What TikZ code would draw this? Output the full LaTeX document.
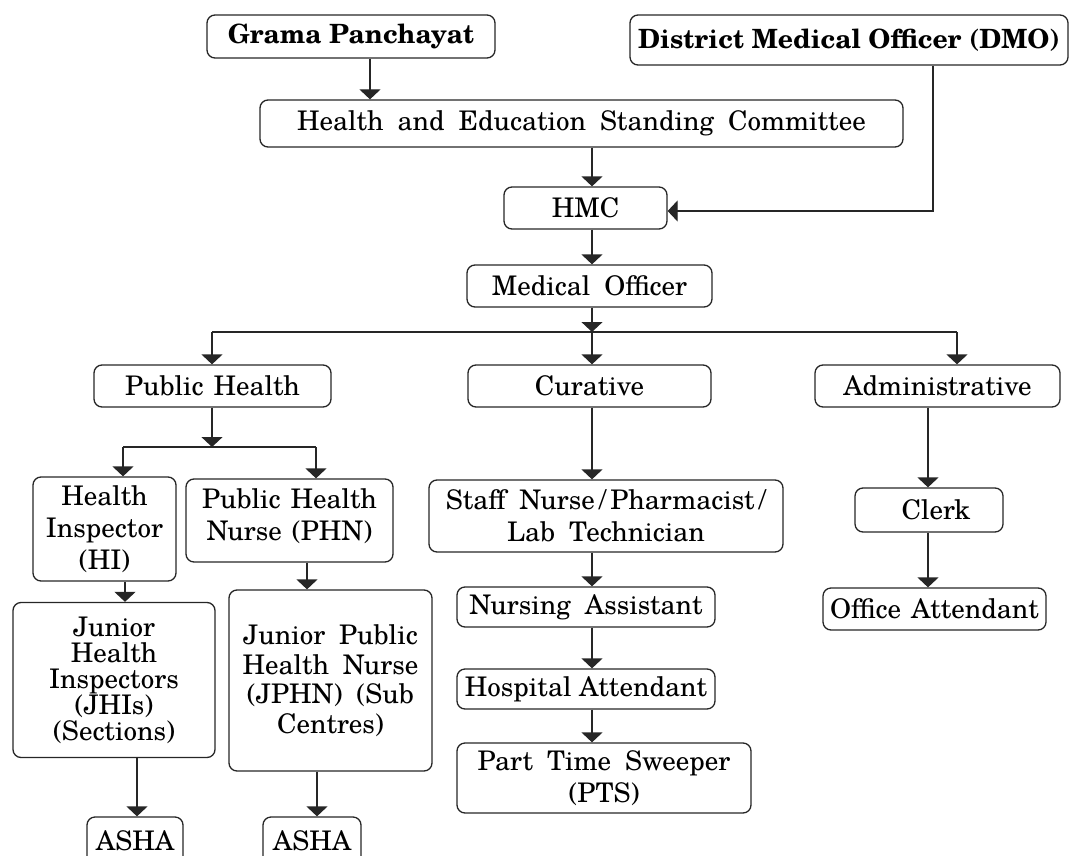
\documentclass[tikz,border=0pt]{standalone}
\usepackage{fontspec}
\setmainfont{texgyreschola}[Extension=.otf, UprightFont=*-regular, BoldFont=*-bold]
\usetikzlibrary{arrows.meta,calc}
\newcommand{\slsh}{\hspace{4pt}/\hspace{4pt}}
\newcommand{\widesp}{\spaceskip 14pt plus 2pt minus 2pt\relax}
\newcommand{\midsp}{\spaceskip 10pt plus 2pt minus 2pt\relax}
\begin{document}
\begin{tikzpicture}[x=1pt,y=-1pt,
  box/.style={draw=black!85, line width=1.3pt, rounded corners=8pt, inner sep=0pt, align=center, font=\fontsize{27}{32}\selectfont\widesp},
  bbox/.style={box, font=\fontsize{26.5}{30}\selectfont\bfseries},
  arr/.style={draw=black!85, line width=1.3pt, -{Triangle[width=21pt,length=10pt]}},
  ln/.style={draw=black!85, line width=1.3pt}]
\useasboundingbox (0,0) rectangle (1070,856);
% nodes
\node[bbox, minimum width=288pt, minimum height=43pt] (gp) at (351,36.5) {Grama Panchayat};
\node[bbox, minimum width=438pt, minimum height=50pt] (dmo) at (849,40) {District Medical Officer (DMO)};
\node[box, minimum width=643pt, minimum height=47pt] (hesc) at (581.5,123.5) {Health and Education Standing Committee};
\node[box, minimum width=163pt, minimum height=42pt] (hmc) at (585.5,208) {HMC};
\node[box, minimum width=245pt, minimum height=42pt] (mo) at (589.5,286) {Medical Officer};
\node[box, minimum width=237pt, minimum height=42pt, font=\fontsize{27}{32}\selectfont\midsp] (ph) at (212.5,386) {Public Health};
\node[box, minimum width=243pt, minimum height=42pt] (cur) at (589.5,386) {Curative};
\node[box, minimum width=245pt, minimum height=42pt] (adm) at (937.5,386) {Administrative};
\node[box, minimum width=143pt, minimum height=104pt] (hi) at (104.5,529) {Health\\Inspector\\(HI)};
\node[box, minimum width=207pt, minimum height=83pt, font=\fontsize{27}{32}\selectfont\midsp] (phn) at (289.5,520.5) {Public Health\\Nurse (PHN)\\[-20pt]{}};
\node[box, minimum width=202pt, minimum height=155pt, font=\fontsize{27}{26}\selectfont] (jhi) at (114,680) {Junior\\Health\\Inspectors\\(JHIs)\\(Sections)};
\node[box, minimum width=203pt, minimum height=181pt, font=\fontsize{27}{29.5}\selectfont\widesp] (jphn) at (330.5,680.5) {Junior Public\\Health Nurse\\(JPHN) (Sub\\Centres)};
\node[box, minimum width=96pt, minimum height=48pt] (asha1) at (135,841) {ASHA};
\node[box, minimum width=98pt, minimum height=48pt] (asha2) at (312,841) {ASHA};
\node[box, minimum width=354pt, minimum height=72pt] (staff) at (606,516) {Staff Nurse\slsh Pharmacist\slsh\\Lab Technician};
\node[box, minimum width=258pt, minimum height=40pt] (na) at (586,607) {Nursing Assistant};
\node[box, minimum width=258pt, minimum height=40pt, font=\fontsize{27}{32}\selectfont] (ha) at (586,689) {Hospital Attendant};
\node[box, minimum width=294pt, minimum height=70pt] (pts) at (604,778) {Part Time Sweeper\\(PTS)};
\node[box, minimum width=148pt, minimum height=44pt] (clerk) at (929,510) {\hspace{14pt}Clerk};
\node[box, minimum width=223pt, minimum height=42pt, font=\fontsize{27}{32}\selectfont\midsp] (oa) at (934.5,609) {Office Attendant};
% helper coordinates
\coordinate (gpx) at (370,0);
\coordinate (sp) at (592,0);
\coordinate (dmx) at (933,0);
\coordinate (ad) at (928,0);
\coordinate (barL) at (212,332);
\coordinate (barM) at (592,332);
\coordinate (barR) at (957,332);
\coordinate (phb) at (212,447);
\coordinate (phL) at (123,447);
\coordinate (phR) at (316,447);
\coordinate (hix) at (125,0);
\coordinate (phnx) at (307,0);
\coordinate (jhix) at (137,0);
\coordinate (jphnx) at (317,0);
% connectors
\draw[arr] (gp.south -| gpx) -- (hesc.north -| gpx);
\draw[arr] (hesc.south -| sp) -- (hmc.north -| sp);
\draw[arr] (dmo.south -| dmx) |- ([yshift=-3pt]hmc.east);
\draw[arr] (hmc.south -| sp) -- (mo.north -| sp);
\draw[arr] (mo.south -| sp) -- (barM);
\draw[ln] (barL) -- (barR);
\draw[arr] (barL) -- (ph.north -| barL);
\draw[arr] (barM) -- (cur.north -| barM);
\draw[arr] (barR) -- (adm.north -| barR);
\draw[arr] (ph.south -| phb) -- (phb);
\draw[ln] (phL) -- (phR);
\draw[arr] (phL) -- (hi.north -| phL);
\draw[arr] (phR) -- (phn.north -| phR);
\draw[arr] (hi.south -| hix) -- (jhi.north -| hix);
\draw[arr] (phn.south -| phnx) -- (jphn.north -| phnx);
\draw[arr] (jhi.south -| jhix) -- (asha1.north -| jhix);
\draw[arr] (jphn.south -| jphnx) -- (asha2.north -| jphnx);
\draw[arr] (cur.south -| sp) -- (staff.north -| sp);
\draw[arr] (staff.south -| sp) -- (na.north -| sp);
\draw[arr] (na.south -| sp) -- (ha.north -| sp);
\draw[arr] (ha.south -| sp) -- (pts.north -| sp);
\draw[arr] (adm.south -| ad) -- (clerk.north -| ad);
\draw[arr] (clerk.south -| ad) -- (oa.north -| ad);
\end{tikzpicture}
\end{document}
